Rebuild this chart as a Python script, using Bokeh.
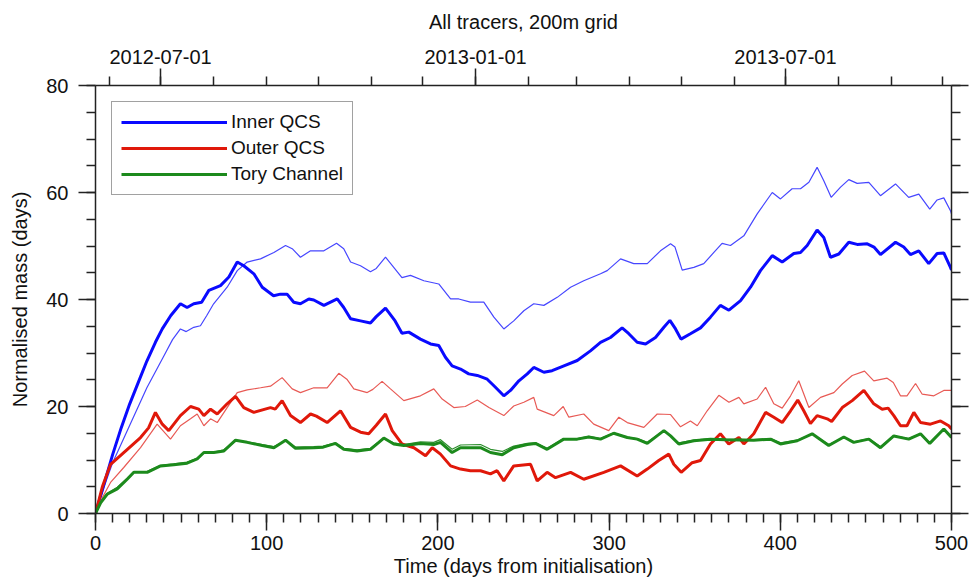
from datetime import date
from bokeh.plotting import figure
from bokeh.models import (LinearAxis, FixedTicker, SingleIntervalTicker, Legend,
                          LegendItem, Range1d)
from bokeh.embed import file_html
from bokeh.resources import INLINE

FONT = "Liberation Sans"

# ---------------- data ----------------
chart_title = "All tracers, 200m grid"
start_date = date(2012, 5, 24)
top_tick_labels = ["2012-07-01", "2013-01-01", "2013-07-01"]
month_starts = ["2012-06-01", "2012-07-01", "2012-08-01", "2012-09-01", "2012-10-01",
                "2012-11-01", "2012-12-01", "2013-01-01", "2013-02-01", "2013-03-01",
                "2013-04-01", "2013-05-01", "2013-06-01", "2013-07-01", "2013-08-01",
                "2013-09-01", "2013-10-01"]
y_ticks = [0, 20, 40, 60, 80]

inner_thick_day = [0, 5, 10, 15, 20, 25, 30, 35, 39, 44, 49.6, 53.5, 57.4, 62, 66.2, 73, 77.9,
                   82.8, 86.6, 92.5, 97.4, 104, 108, 111.9, 115.8, 119.7, 124.6, 127.5, 133.4,
                   141.2, 145, 149, 154.8, 160.6, 164, 169.4, 175, 179, 183, 189.8, 195.7,
                   200.5, 204.4, 208.3, 213.2, 218, 223, 228.8, 233.6, 238.5, 242.4, 247.3,
                   252.2, 256, 261.9, 266.7, 273.6, 281.4, 289.1, 295, 300.8, 307.6, 311.5,
                   316.4, 321.3, 327.1, 332, 335.5, 338.8, 342, 347.5, 353.4, 359.2, 365, 370,
                   376.8, 382.6, 388.4, 395.3, 401.1, 407.9, 411.8, 415.7, 421.5, 425.4, 429.3,
                   434.2, 440, 444.9, 450.8, 454.7, 458.5, 467.3, 472.1, 476, 480.9, 486.7,
                   491.6, 495.5, 499.4, 500]
inner_thick_val = [0, 5.5, 11, 16, 20.5, 24.5, 28.5, 32, 34.5, 37, 39.2, 38.5, 39.2, 39.5, 41.7,
                   42.6, 44.2, 47, 46.3, 44.8, 42.3, 40.7, 41, 41, 39.5, 39.2, 40.1, 39.9, 38.9,
                   40.1, 38.5, 36.4, 36, 35.6, 36.8, 38.4, 36, 33.7, 33.9, 32.6, 31.7, 31.4,
                   29.2, 27.6, 27, 26.1, 25.8, 25.1, 23.6, 22, 23, 24.8, 26.1, 27.3, 26.4, 26.7,
                   27.6, 28.6, 30.4, 32, 32.9, 34.7, 33.6, 32, 31.7, 32.9, 34.8, 36.1, 34.5,
                   32.6, 33.6, 34.7, 36.7, 38.9, 38, 39.8, 42.3, 45.4, 48.2, 47, 48.6, 48.8,
                   50.1, 53, 51.6, 47.9, 48.5, 50.7, 50.3, 50.4, 49.8, 48.4, 50.7, 49.8, 48.4,
                   49.1, 46.7, 48.6, 48.7, 46, 45.5]

inner_thin_day = [0, 5, 10, 15, 20, 25, 30, 35, 40, 45, 49.6, 53, 57.4, 61.3, 65, 69, 76.9, 82.8,
                  88.6, 96.4, 104.2, 111, 114.9, 119.7, 125.6, 133.4, 140.8, 145, 149, 154.8,
                  160.6, 164, 169.4, 174.2, 179, 184, 191.8, 200.5, 207.4, 212.2, 219, 226.8,
                  232.7, 238.5, 244.3, 250.2, 256, 261.9, 269.7, 277.5, 285.2, 295, 298.9,
                  306.7, 314.4, 322.3, 330, 335.9, 338.5, 342.7, 349.5, 355.3, 361.2, 366,
                  370.9, 378.7, 386.5, 395.3, 400.1, 406.9, 411.8, 416.7, 421.5, 425.4, 429.7,
                  435.2, 440, 444.9, 451.7, 458.5, 467.3, 475, 480.9, 487.3, 491.6, 495.5,
                  499.4, 500]
inner_thin_val = [0, 5, 9.5, 13, 16.5, 20, 23.5, 26.5, 29.5, 32.5, 34.5, 34, 34.8, 35.1, 37,
                  39.2, 42.3, 45.4, 47, 47.6, 48.8, 50.1, 49.5, 47.9, 49.1, 49.1, 50.5, 49.5, 47,
                  46.3, 45.2, 45.8, 47.9, 46, 44.1, 44.5, 43.5, 42.9, 40.1, 40.1, 39.5, 39.5,
                  36.7, 34.5, 36, 37.9, 39.2, 38.9, 40.4, 42.3, 43.5, 44.8, 45.4, 47.6, 46.7,
                  46.7, 49.1, 50.4, 49.8, 45.5, 46, 46.7, 48.8, 50.5, 50.1, 51.9, 56, 60, 58.8,
                  60.7, 60.7, 61.9, 64.7, 62.2, 59.1, 61, 62.4, 61.7, 61.9, 59.4, 61.6, 59.1,
                  59.7, 56.9, 58.6, 59, 56.6, 56]

outer_thick_day = [0, 4, 8.8, 16.5, 26.3, 31, 35, 39, 42.8, 49.6, 55.5, 60.3, 63.3, 67.2, 71.1,
                   76.9, 81.8, 86.6, 92.5, 102.2, 105, 109, 113.9, 119.7, 125.6, 129, 135.3,
                   143.1, 149, 154.8, 159.6, 164, 169.4, 173.3, 179, 186, 192.8, 196.7, 201.5,
                   207.4, 213.2, 219, 224.9, 230.7, 234.6, 238.5, 244.3, 254.1, 258, 263.8,
                   268.7, 277.5, 285.2, 296.9, 306.7, 316.4, 322.3, 329, 334.9, 337.8, 342.1,
                   348.5, 353.4, 359.2, 365, 369.9, 375.8, 378.7, 384.5, 391.4, 396.2, 401.1,
                   406, 410.2, 413.7, 417.6, 421.5, 427.4, 430, 436.2, 442, 448.8, 454.6, 459.5,
                   463, 466.3, 470.2, 474, 478, 481.9, 487.7, 493.6, 498.4, 500]
outer_thick_val = [0, 5, 9.2, 11.4, 14.2, 16, 18.9, 16.7, 15.5, 18.3, 20, 19.5, 18.3, 19.5, 18.6,
                   20.5, 21.9, 19.8, 18.9, 19.8, 19.5, 21.1, 18.3, 17, 18.6, 18.2, 17, 19.2,
                   16.1, 15.2, 14.9, 16.5, 18.6, 15.5, 13, 12.3, 10.8, 12.3, 11.1, 8.9, 8.3, 8,
                   8, 7.4, 8, 6.1, 8.9, 9.2, 6.1, 7.7, 6.7, 7.7, 6.4, 7.7, 8.9, 7, 8.3, 9.9,
                   11.1, 9.2, 7.7, 9.5, 9.9, 13, 14.9, 13, 14.2, 13, 14.9, 18.9, 18, 17, 19.2,
                   21.2, 19.2, 16.8, 18.3, 17.7, 17.2, 19.8, 21.1, 23, 20.5, 19.5, 19.7, 18.3,
                   16.4, 16.4, 18.9, 17, 16.7, 17.3, 16.4, 15.8]

outer_thin_day = [0, 4, 8.8, 16.5, 26.3, 36, 43.8, 49.6, 55.5, 59.4, 63.3, 67.2, 71.1, 76.9,
                  82.8, 88.6, 96.4, 102.2, 109, 114.9, 119.7, 127.5, 135.3, 142.1, 146.8, 150.9,
                  158.7, 162, 167.4, 172.3, 180.1, 189.8, 197.6, 202.5, 209.3, 216, 223, 229.8,
                  238.5, 244.3, 250.2, 256, 258, 267.7, 273.2, 276.5, 285.2, 291, 299.8, 305.7,
                  310.6, 320.3, 328.1, 335.9, 341.7, 347.5, 351.5, 357.3, 364.1, 370, 375.8,
                  378.7, 386.5, 391.4, 396.2, 401.1, 406, 410.8, 416.7, 423.5, 431.3, 436.2,
                  442, 449.2, 454.6, 462.4, 466, 470.2, 474, 479, 482.9, 489.7, 495.5, 500]
outer_thin_val = [0, 3, 5.8, 8.6, 12.3, 16.7, 13.9, 16.4, 17.7, 18.6, 16.4, 17.7, 17, 19.8, 22.6,
                  23.1, 23.5, 23.8, 25.4, 23.3, 22.6, 23.5, 23.5, 26.2, 25.1, 23.3, 22.6, 23.2,
                  24.7, 23.3, 21.1, 22, 23.3, 21.4, 19.8, 20, 21.2, 19.8, 18.3, 20.1, 20.8, 21.7,
                  19.5, 18.3, 20, 18, 18.6, 16.7, 15.5, 18, 17, 16.1, 18.6, 18.5, 16.2, 17.3,
                  16.4, 19.2, 22.1, 20.8, 21.7, 20.5, 21.4, 23.6, 20.5, 19.7, 22, 24.8, 19.8,
                  21.7, 22.6, 24.2, 25.8, 26.6, 24.8, 25.3, 24.5, 22, 22, 24.3, 22.3, 22, 23, 23]

tory_day = [0, 3, 6.8, 12.7, 18.5, 22.4, 30.2, 38, 45.7, 53.5, 59.4, 63.3, 69.1, 75, 81.8, 88.6,
            97.4, 104.2, 111, 116.8, 127.5, 133, 140.2, 145, 152.8, 160.6, 165.5, 168.4, 174.2,
            180.1, 189.8, 197.6, 201.5, 208.3, 213.2, 224.9, 230.7, 237.6, 244.3, 252.2, 257,
            263.8, 273.5, 281.4, 288.1, 295, 302.7, 310.6, 316.4, 322.3, 332, 335.9, 340.7,
            349.5, 359.2, 368, 384.5, 394.3, 400.1, 409.9, 418.6, 428.3, 437.1, 442.9, 451.7,
            458.5, 466.3, 475, 481.9, 487.3, 495.5, 500]
tory_thick_val = [0, 2, 3.6, 4.6, 6.4, 7.7, 7.7, 8.9, 9.1, 9.4, 10.2, 11.4, 11.4, 11.7, 13.7,
                  13.3, 12.7, 12.3, 13.7, 12.2, 12.3, 12.4, 13.1, 12, 11.7, 12, 13.3, 14.1, 13,
                  12.7, 13.1, 12.9, 13.3, 11.4, 12.3, 12.3, 11.4, 11, 12.3, 12.9, 13.1, 12, 13.9,
                  13.9, 14.3, 13.9, 15, 14.2, 13.9, 13.1, 15.5, 14.5, 13, 13.6, 13.9, 13.8, 13.7,
                  13.9, 13, 13.6, 14.9, 12.7, 14.3, 13.3, 13.9, 12.3, 14.5, 13.9, 14.9, 13.1,
                  15.8, 14.2]
tory_thin_val = [0, 2.2, 3.8, 4.9, 6.6, 7.8, 7.9, 9, 9.3, 9.6, 10.3, 11.3, 11.5, 11.9, 13.5,
                 13.4, 12.9, 12.5, 13.6, 12.4, 12.5, 12.6, 13.2, 12.2, 11.9, 12.2, 13.4, 14, 13.2,
                 12.9, 13.4, 13.3, 13.8, 12, 12.8, 12.9, 12, 11.6, 12.6, 13.1, 13.2, 12.2, 14,
                 14, 14.4, 14, 15.1, 14.3, 14, 13.3, 15.5, 14.6, 13.2, 13.7, 14, 13.9, 13.8, 14,
                 13.2, 13.7, 14.9, 12.9, 14.3, 13.4, 14, 12.5, 14.5, 14, 14.9, 13.2, 15.7, 14.3]

series_names = ["Inner QCS", "Outer QCS", "Tory Channel"]

# ---------------- figure ----------------
def to_day(s):
    y, m, d = (int(v) for v in s.split("-"))
    return (date(y, m, d) - start_date).days

p = figure(width=971, height=580, output_backend="svg", toolbar_location=None,
           x_range=Range1d(0, 500), y_range=Range1d(0, 80),
           x_axis_location=None, y_axis_location=None,
           min_border_left=95, min_border_right=20, min_border_top=85, min_border_bottom=67)
p.grid.visible = False
p.outline_line_color = None
p.background_fill_color = "white"
p.border_fill_color = "white"
p.title.visible = False

def style(ax):
    ax.axis_line_color = "#222222"
    ax.axis_line_width = 1.5
    ax.major_tick_line_color = "#222222"
    ax.minor_tick_line_color = "#222222"
    ax.major_tick_line_width = 1.5
    ax.minor_tick_line_width = 1.5
    ax.major_tick_out = 17
    ax.major_tick_in = 0
    ax.minor_tick_out = 9
    ax.minor_tick_in = 0
    ax.major_label_text_font = FONT
    ax.major_label_text_font_size = "20px"
    ax.major_label_text_color = "#111111"
    ax.axis_label_text_font = FONT
    ax.axis_label_text_font_size = "20px"
    ax.axis_label_text_font_style = "normal"
    ax.axis_label_text_color = "#111111"

bottom = LinearAxis(ticker=SingleIntervalTicker(interval=100, num_minor_ticks=10),
                    axis_label="Time (days from initialisation)")
style(bottom)
bottom.major_label_standoff = 5
bottom.axis_label_standoff = 2
p.add_layout(bottom, "below")

left = LinearAxis(ticker=SingleIntervalTicker(interval=20, num_minor_ticks=4),
                  axis_label="Normalised mass (days)")
style(left)
left.major_label_standoff = 10
left.axis_label_standoff = 12
p.add_layout(left, "left")

right = LinearAxis(ticker=FixedTicker(ticks=y_ticks, minor_ticks=list(range(0, 81, 5))),
                   major_label_overrides={t: "" for t in y_ticks})
style(right)
right.major_label_standoff = 0
p.add_layout(right, "right")

top_days = [to_day(s) for s in top_tick_labels]
top = LinearAxis(ticker=FixedTicker(ticks=top_days, minor_ticks=[to_day(s) for s in month_starts]),
                 major_label_overrides=dict(zip(top_days, top_tick_labels)),
                 axis_label=chart_title)
style(top)
top.major_label_standoff = 5
top.axis_label_standoff = 14
p.add_layout(top, "above")

# ---------------- lines ----------------
BLUE, BLUE_L = "#0a0aff", "#4646ff"
RED, RED_L = "#e0180a", "#e85a55"
GREEN, GREEN_L = "#1c8a1c", "#2e8f2e"

p.line(inner_thin_day, inner_thin_val, line_color=BLUE_L, line_width=1.2)
r_in = p.line(inner_thick_day, inner_thick_val, line_color=BLUE, line_width=3)
p.line(outer_thin_day, outer_thin_val, line_color=RED_L, line_width=1.2)
r_out = p.line(outer_thick_day, outer_thick_val, line_color=RED, line_width=3)
p.line(tory_day, tory_thin_val, line_color=GREEN_L, line_width=1.2)
r_tory = p.line(tory_day, tory_thick_val, line_color=GREEN, line_width=3)

legend = Legend(items=[LegendItem(label=series_names[0], renderers=[r_in]),
                       LegendItem(label=series_names[1], renderers=[r_out]),
                       LegendItem(label=series_names[2], renderers=[r_tory])],
                location="top_left", margin=16, padding=9, spacing=4,
                glyph_width=106, glyph_height=20, label_standoff=4,
                border_line_color="#444444", border_line_width=1.5,
                label_text_font=FONT, label_text_font_size="19px",
                label_text_color="#111111", background_fill_alpha=1.0)
p.add_layout(legend)

open("out.html", "w").write(file_html(p, INLINE))
